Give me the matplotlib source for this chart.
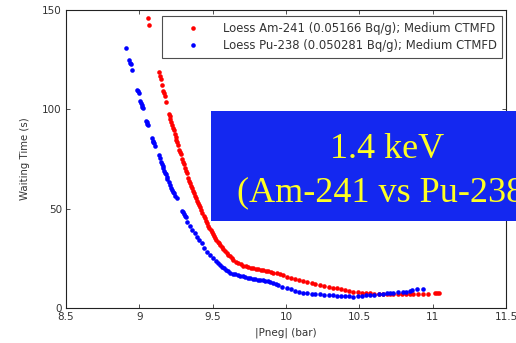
import matplotlib
matplotlib.use("Agg")
import matplotlib.pyplot as plt
from matplotlib.patches import Rectangle

am_x = [9.059, 9.066, 9.134, 9.141, 9.148, 9.154, 9.161, 9.168, 9.175, 9.182, 9.202, 9.207, 9.211, 9.217,
        9.223, 9.23, 9.236, 9.243, 9.248, 9.252, 9.258, 9.263, 9.27, 9.276, 9.282, 9.29, 9.297, 9.304, 9.313,
        9.319, 9.325, 9.334, 9.34, 9.345, 9.352, 9.359, 9.366, 9.373, 9.38, 9.386, 9.393, 9.4, 9.407, 9.413,
        9.421, 9.429, 9.437, 9.445, 9.452, 9.459, 9.467, 9.476, 9.485, 9.493, 9.5, 9.508, 9.516, 9.525, 9.533,
        9.541, 9.55, 9.561, 9.572, 9.584, 9.595, 9.606, 9.617, 9.628, 9.64, 9.657, 9.674, 9.691, 9.709, 9.726,
        9.743, 9.76, 9.777, 9.794, 9.811, 9.828, 9.845, 9.862, 9.879, 9.896, 9.913, 9.936, 9.959, 9.98, 10.004,
        10.03, 10.06, 10.09, 10.118, 10.145, 10.175, 10.2, 10.231, 10.26, 10.29, 10.32, 10.345, 10.375, 10.4,
        10.43, 10.458, 10.49, 10.52, 10.545, 10.572, 10.6, 10.63, 10.66, 10.686, 10.71, 10.73, 10.76, 10.79,
        10.82, 10.845, 10.868, 10.9, 10.93, 10.97, 11.015, 11.03, 11.045]
am_y = [146.1, 142.4, 118.8, 117.0, 115.2, 112.2, 109.4, 108.0, 106.7, 103.7, 97.8, 96.5, 95.1, 93.6,
        92.1, 90.8, 89.6, 87.4, 86.0, 84.7, 83.4, 82.2, 79.5, 78.4, 77.3, 75.0, 73.7, 72.5, 70.3,
        69.2, 68.1, 65.3, 64.0, 62.8, 61.5, 60.2, 58.9, 57.7, 56.4, 55.2, 54.1, 53.0, 51.8, 50.7,
        49.2, 47.7, 46.5, 45.4, 44.0, 42.6, 41.5, 40.4, 39.4, 38.4, 37.2, 36.1, 35.1, 34.2, 33.3,
        32.5, 31.7, 30.7, 29.7, 28.7, 27.8, 26.9, 26.0, 25.1, 24.2, 23.3, 22.5, 21.9, 21.3, 20.9,
        20.5, 20.2, 20.0, 19.8, 19.5, 19.3, 19.1, 18.8, 18.5, 18.2, 17.8, 17.4, 17.1, 16.4, 15.8,
        15.3, 14.8, 14.2, 13.7, 13.2, 12.6, 12.1, 11.6, 11.1, 10.7, 10.3, 9.9, 9.4, 9.0,
        8.6, 8.2, 7.9, 7.7, 7.5, 7.4, 7.2, 7.1, 7.0, 7.0, 6.9, 6.9, 6.9, 6.9,
        6.9, 6.9, 6.9, 6.9, 6.9, 6.9, 7.4, 7.4, 7.4]

pu_x = [8.909, 8.929, 8.935, 8.941, 8.948, 8.986, 8.991, 8.996, 9.004, 9.01, 9.016, 9.02, 9.023, 9.045,
        9.05, 9.055, 9.061, 9.088, 9.092, 9.096, 9.1, 9.107, 9.134, 9.14, 9.148, 9.152, 9.158, 9.163, 9.17,
        9.175, 9.18, 9.185, 9.19, 9.2, 9.209, 9.217, 9.225, 9.23, 9.236, 9.245, 9.254, 9.293, 9.298, 9.305,
        9.31, 9.316, 9.323, 9.342, 9.361, 9.376, 9.391, 9.408, 9.425, 9.442, 9.459, 9.48, 9.504, 9.52, 9.533,
        9.547, 9.561, 9.575, 9.59, 9.604, 9.618, 9.635, 9.652, 9.669, 9.686, 9.703, 9.72, 9.737, 9.754, 9.771,
        9.788, 9.805, 9.822, 9.84, 9.857, 9.874, 9.891, 9.91, 9.93, 9.947, 9.975, 10.004, 10.03, 10.06, 10.09,
        10.118, 10.145, 10.175, 10.2, 10.231, 10.26, 10.29, 10.32, 10.345, 10.375, 10.4, 10.43, 10.458, 10.49,
        10.52, 10.545, 10.572, 10.6, 10.63, 10.66, 10.686, 10.71, 10.73, 10.765, 10.8, 10.82, 10.845, 10.86,
        10.895, 10.93]
pu_y = [130.7, 124.8, 123.5, 122.8, 119.8, 109.7, 109.0, 108.4, 104.3, 103.0, 102.2, 101.3, 100.8, 94.3,
        93.5, 92.8, 92.1, 85.4, 84.3, 83.5, 82.9, 81.7, 77.0, 75.4, 73.6, 72.4, 71.3, 70.3, 68.8,
        68.0, 67.4, 66.1, 64.9, 63.4, 61.9, 60.6, 59.4, 58.5, 57.7, 56.4, 55.2, 49.0, 48.2, 47.2,
        46.4, 45.6, 43.4, 41.3, 39.3, 37.6, 35.9, 34.2, 32.6, 30.4, 28.3, 26.6, 25.0, 23.8, 22.6,
        21.7, 20.8, 20.0, 19.2, 18.5, 17.8, 17.3, 16.9, 16.6, 16.3, 15.9, 15.6, 15.3, 14.9, 14.7,
        14.5, 14.3, 14.1, 13.9, 13.6, 13.4, 13.2, 12.6, 12.1, 11.6, 10.8, 9.9, 9.4, 8.8, 8.2,
        7.7, 7.4, 7.2, 7.0, 6.9, 6.7, 6.5, 6.3, 6.2, 6.0, 5.9, 5.8, 5.7, 5.9,
        6.1, 6.3, 6.5, 6.7, 7.0, 7.2, 7.4, 7.5, 7.6, 7.9, 7.9, 8.3, 8.7, 9.0,
        9.6, 9.6]

label_am = "Loess Am-241 (0.05166 Bq/g); Medium CTMFD"
label_pu = "Loess Pu-238 (0.050281 Bq/g); Medium CTMFD"
x_ticks = [8.5, 9, 9.5, 10, 10.5, 11, 11.5]
x_ticklabels = ["8.5", "9", "9.5", "10", "10.5", "11", "11.5"]
y_ticks = [0, 50, 100, 150]
box_lines = ["1.4 keV", "(Am-241 vs Pu-238)"]

fig = plt.figure(figsize=(5.16, 3.43), dpi=100)
ax = fig.add_axes([0.128, 0.102, 0.853, 0.869])

ax.plot(am_x, am_y, linestyle="none", marker="o", markersize=3.3, markeredgewidth=0,
        color="#ff0000", label=label_am)
ax.plot(pu_x, pu_y, linestyle="none", marker="o", markersize=3.3, markeredgewidth=0,
        color="#0000ff", label=label_pu)

ax.set_xlim(8.5, 11.5)
ax.set_ylim(0, 150)
ax.set_xticks(x_ticks)
ax.set_xticklabels(x_ticklabels)
ax.set_yticks(y_ticks)
ax.tick_params(direction="in", top=True, right=True, labelsize=7.5, length=3, width=0.6,
               colors="#333333", pad=3)
for s in ax.spines.values():
    s.set_linewidth(0.8)
    s.set_color("#222222")
ax.set_xlabel("|Pneg| (bar)", fontsize=7.5, labelpad=4, color="#333333")
ax.set_ylabel("Waiting Time (s)", fontsize=7.3, labelpad=9, color="#333333")

leg = ax.legend(loc="upper right", bbox_to_anchor=(0.973, 0.952), bbox_transform=fig.transFigure,
                fontsize=8.4, frameon=True, fancybox=False, borderpad=0.45, handletextpad=0.35,
                handlelength=4.4, labelspacing=0.4, borderaxespad=0)
leg.get_frame().set_edgecolor("#222222")
leg.get_frame().set_linewidth(0.8)
for t in leg.get_texts():
    t.set_color("#333333")

rect = Rectangle((0.409, 0.356), 0.62, 0.32, transform=fig.transFigure,
                 facecolor="#1428f0", edgecolor="none", zorder=10)
fig.patches.append(rect)
fig.text(0.75, (343 - 158) / 343, box_lines[0], ha="center", va="baseline",
         fontsize=26, color="#ffff22", family="Liberation Serif", zorder=11)
fig.text(0.75, (343 - 201) / 343, box_lines[1], ha="center", va="baseline",
         fontsize=26, color="#ffff22", family="Liberation Serif", zorder=11)

fig.savefig("out.png", dpi=100)
